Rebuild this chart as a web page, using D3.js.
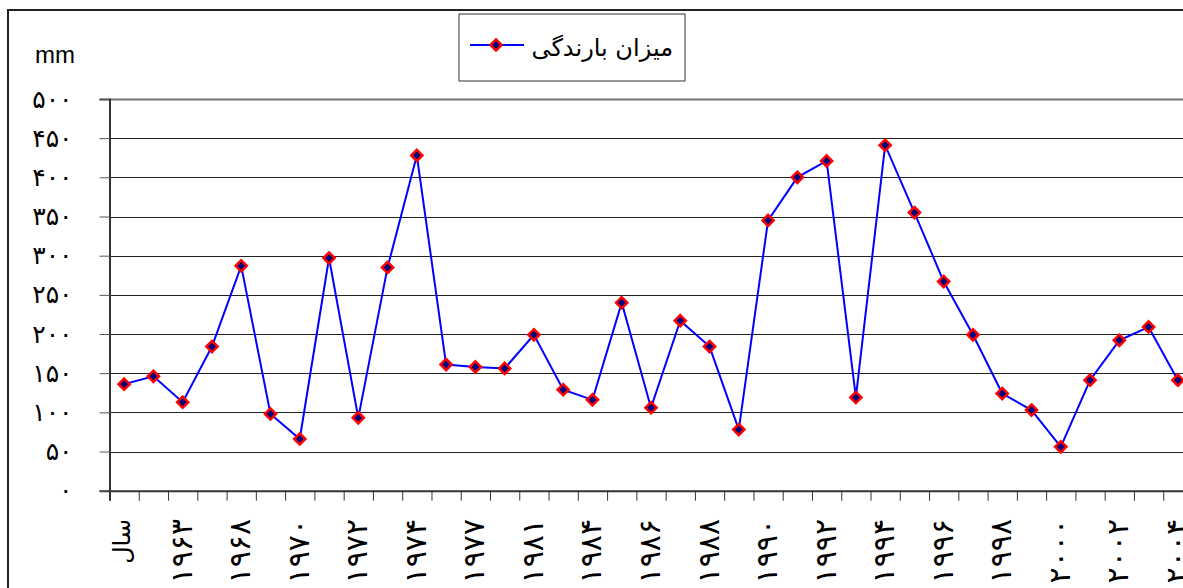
<!DOCTYPE html>
<html>
<head>
<meta charset="utf-8">
<script src="https://cdn.jsdelivr.net/npm/d3@7"></script>
<style>
  body { margin: 0; background: #fff; }
  svg { display: block; }
</style>
</head>
<body>
<div id="chart"></div>
<script>
var width = 1183;
var height = 588;

// category labels (only every other one is shown on the axis)
var years = ["سال", "۱۹۶۲", "۱۹۶۳", "۱۹۶۵", "۱۹۶۸", "۱۹۶۹", "۱۹۷۰", "۱۹۷۱", "۱۹۷۲", "۱۹۷۳",
             "۱۹۷۴", "۱۹۷۵", "۱۹۷۷", "۱۹۷۹", "۱۹۸۱", "۱۹۸۳", "۱۹۸۴", "۱۹۸۵", "۱۹۸۶", "۱۹۸۷",
             "۱۹۸۸", "۱۹۸۹", "۱۹۹۰", "۱۹۹۱", "۱۹۹۲", "۱۹۹۳", "۱۹۹۴", "۱۹۹۵", "۱۹۹۶", "۱۹۹۷",
             "۱۹۹۸", "۱۹۹۹", "۲۰۰۰", "۲۰۰۱", "۲۰۰۲", "۲۰۰۳", "۲۰۰۴"];

// rainfall in mm
var rainfall = [136, 146, 113, 184, 287, 98, 66, 297, 93, 285,
                428, 161, 158, 156, 199, 129, 116, 240, 106, 217,
                184, 78, 345, 400, 421, 119, 441, 355, 267, 199,
                124, 103, 56, 141, 192, 209, 141];

var yTicks = [0, 50, 100, 150, 200, 250, 300, 350, 400, 450, 500];
var seriesName = "میزان بارندگی";
var unitLabel = "mm";

var faDigits = "۰۱۲۳۴۵۶۷۸۹";
function toFa(n) {
    return String(n).replace(/[0-9]/g, function(d) { return faDigits[+d]; });
}

var plotLeft = 109.5;
var plotTop = 99;
var plotBottom = 490.7;
var step = 29.27;

var svgCanvas = d3.select("#chart")
    .append("svg")
    .attr("width", width)
    .attr("height", height);

// outer chart frame
svgCanvas.append("rect")
    .attr("x", 8)
    .attr("y", 10)
    .attr("width", 1250)
    .attr("height", 700)
    .attr("fill", "none")
    .attr("stroke", "#222")
    .attr("stroke-width", 2);

var xScale = d3.scaleBand()
    .domain(d3.range(years.length))
    .range([plotLeft, plotLeft + years.length * step]);

var xEdge = d3.scaleLinear()
    .domain([0, years.length])
    .range([plotLeft, plotLeft + years.length * step]);

var yScale = d3.scaleLinear()
    .domain([0, 500])
    .range([plotBottom, plotTop]);

// gridlines
svgCanvas.append("g")
    .selectAll("line")
    .data(yTicks.filter(function(d) { return d > 0; }))
    .enter()
    .append("line")
    .attr("x1", plotLeft)
    .attr("x2", width)
    .attr("y1", function(d) { return Math.round(yScale(d)) + 0.5; })
    .attr("y2", function(d) { return Math.round(yScale(d)) + 0.5; })
    .attr("stroke", function(d) { return d == 500 ? "#777" : "#222"; })
    .attr("stroke-width", function(d) { return d == 500 ? 2 : 1; });

// y axis
var yAxis = svgCanvas.append("g")
    .attr("transform", "translate(" + plotLeft + ",0)")
    .call(d3.axisLeft(yScale)
        .tickValues(yTicks)
        .tickSize(10)
        .tickPadding(27)
        .tickFormat(toFa));
yAxis.select(".domain").attr("stroke", "#333").attr("stroke-width", 2);
yAxis.selectAll(".tick line").attr("stroke", "#555");
yAxis.selectAll("text")
    .attr("font-family", "DejaVu Sans")
    .attr("font-size", 25)
    .attr("fill", "#000");

// x axis with ticks on the category edges
var xAxis = svgCanvas.append("g")
    .attr("transform", "translate(0," + plotBottom + ")")
    .call(d3.axisBottom(xEdge)
        .tickValues(d3.range(years.length + 1))
        .tickSize(10)
        .tickFormat(""));
xAxis.select(".domain").attr("stroke", "#333").attr("stroke-width", 2);
xAxis.selectAll(".tick line").attr("stroke", "#333");

// category labels, rotated
svgCanvas.append("g")
    .selectAll("text")
    .data(years.map(function(d, i) { return {label: d, i: i}; })
        .filter(function(d) { return d.i % 2 == 0; }))
    .enter()
    .append("text")
    .attr("transform", function(d) {
        return "translate(" + (xScale(d.i) + xScale.bandwidth() / 2) + ",519) rotate(-90)";
    })
    .attr("dy", function(d) { return d.i == 0 ? "0.25em" : "0.3em"; })
    .attr("text-anchor", "end")
    .attr("font-family", "DejaVu Sans")
    .attr("font-size", function(d) { return d.i == 0 ? 24 : 30; })
    .text(function(d) { return d.label; });

// unit label
svgCanvas.append("text")
    .attr("x", 35)
    .attr("y", 63)
    .attr("font-family", "Liberation Sans")
    .attr("font-size", 24)
    .text(unitLabel);

// line
var line = d3.line()
    .x(function(d, i) { return xScale(i) + xScale.bandwidth() / 2; })
    .y(function(d) { return yScale(d); });

svgCanvas.append("path")
    .datum(rainfall)
    .attr("d", line)
    .attr("fill", "none")
    .attr("stroke", "#0000ff")
    .attr("stroke-width", 2);

var diamond = d3.symbol().type(d3.symbolDiamond2).size(80);

svgCanvas.append("g")
    .selectAll("path")
    .data(rainfall)
    .enter()
    .append("path")
    .attr("d", diamond)
    .attr("transform", function(d, i) {
        return "translate(" + (xScale(i) + xScale.bandwidth() / 2) + "," + yScale(d) + ")";
    })
    .attr("fill", "#000080")
    .attr("stroke", "#ff0000")
    .attr("stroke-width", 2.5);

// legend
var legend = svgCanvas.append("g");
legend.append("rect")
    .attr("x", 459)
    .attr("y", 14)
    .attr("width", 226)
    .attr("height", 67)
    .attr("fill", "#fff")
    .attr("stroke", "#333")
    .attr("stroke-width", 1);
legend.append("line")
    .attr("x1", 470)
    .attr("x2", 524)
    .attr("y1", 45)
    .attr("y2", 45)
    .attr("stroke", "#0000ff")
    .attr("stroke-width", 2);
legend.append("path")
    .attr("d", diamond)
    .attr("transform", "translate(496,45)")
    .attr("fill", "#000080")
    .attr("stroke", "#ff0000")
    .attr("stroke-width", 2.5);
legend.append("text")
    .attr("x", 673)
    .attr("y", 56)
    .attr("text-anchor", "end")
    .attr("font-family", "DejaVu Sans")
    .attr("font-size", 24)
    .text(seriesName);
</script>
</body>
</html>
